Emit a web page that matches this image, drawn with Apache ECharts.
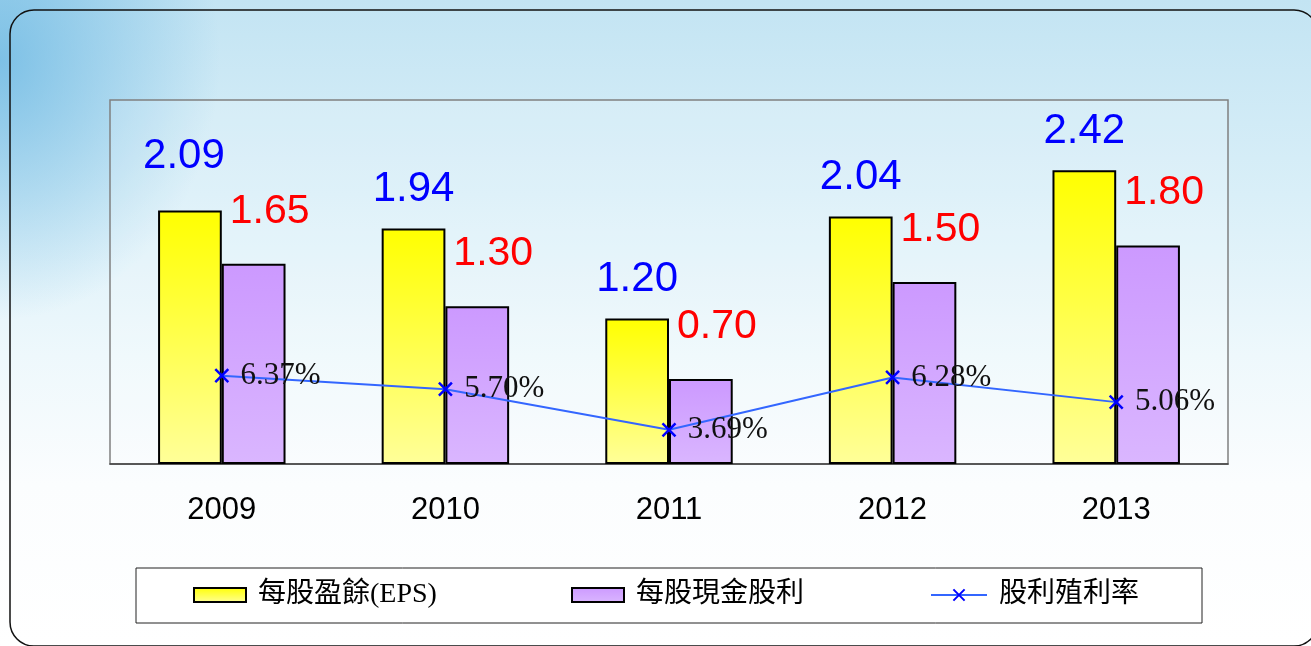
<!DOCTYPE html>
<html>
<head>
<meta charset="utf-8">
<script src="https://cdn.jsdelivr.net/npm/echarts@6/dist/echarts.min.js"></script>
<style>
    html, body { margin: 0; padding: 0; }
    body {
        width: 1311px; height: 646px; overflow: hidden;
        background:
            radial-gradient(ellipse 220px 260px at 0px 60px, rgba(100,180,225,0.75), rgba(100,180,225,0) 100%),
            linear-gradient(to bottom, #c3e4f3 0%, #d9eff8 30%, #eef8fc 55%, #fbfdfe 75%, #ffffff 100%);
    }
    #main { width: 1311px; height: 646px; }
</style>
</head>
<body>
<div id="main"></div>
<script>
// 年度
var years = ['2009', '2010', '2011', '2012', '2013'];
// 每股盈餘(EPS)
var epsData = [2.09, 1.94, 1.20, 2.04, 2.42];
// 每股現金股利
var cashDividend = [1.65, 1.30, 0.70, 1.50, 1.80];
// 股利殖利率(%)
var yieldRate = [6.37, 5.70, 3.69, 6.28, 5.06];

var seriesNames = ['每股盈餘(EPS)', '每股現金股利', '股利殖利率'];

var myChart = echarts.init(document.getElementById('main'));

var crossIcon = 'path://M0,0L10,10M10,0L0,10';

var legendText = {
    fontFamily: 'Liberation Serif, "Noto Sans CJK TC"',
    fontSize: 28,
    color: '#000',
    padding: [0, 0, 0, 7]
};

//2009年的EPS標籤在原圖中稍微偏左上
var epsItems = epsData.map(function (v, i) {
    if (i === 0) {
        return { value: v, label: { distance: 33, offset: [-6, 0] } };
    }
    return v;
});

var option = {
    backgroundColor: 'transparent',
    animation: false,
    graphic: [
        {
            // 外框
            type: 'rect',
            shape: { x: 10, y: 10, width: 1308, height: 636, r: 24 },
            style: { fill: 'none', stroke: '#111', lineWidth: 1.5 },
            silent: true
        },
        {
            // 圖例框
            type: 'rect',
            shape: { x: 136, y: 568, width: 1066, height: 55 },
            style: { fill: '#fff', stroke: '#222', lineWidth: 1 },
            silent: true,
            z: -1
        }
    ],
    grid: {
        left: 110,
        right: 83,
        top: 100,
        bottom: 182,
        show: true,
        borderColor: '#808080',
        borderWidth: 1.5,
        backgroundColor: 'rgba(255,255,255,0.15)'
    },
    legend: [
        {
            data: [{ name: seriesNames[0], icon: 'rect' }],
            left: 193, top: 581, padding: 0,
            itemWidth: 52, itemHeight: 14,
            textStyle: legendText
        },
        {
            data: [{ name: seriesNames[1], icon: 'rect' }],
            left: 571, top: 581, padding: 0,
            itemWidth: 52, itemHeight: 14,
            textStyle: legendText
        },
        {
            data: [seriesNames[2]],
            left: 930, top: 581, padding: 0,
            itemWidth: 56, itemHeight: 14,
            textStyle: legendText
        }
    ],
    xAxis: [
        {
            type: 'category',
            data: years,
            axisTick: { show: false },
            axisLine: { lineStyle: { color: '#404040', width: 1.5 } },
            axisLabel: {
                color: '#000',
                fontFamily: 'Liberation Sans',
                fontSize: 31,
                margin: 31
            }
        }
    ],
    yAxis: [
        {
            type: 'value',
            min: 0,
            max: 3,
            show: false,
            splitLine: { show: false }
        },
        {
            type: 'value',
            min: 2,
            max: 20,
            show: false,
            splitLine: { show: false }
        }
    ],
    series: [
        {
            name: seriesNames[0],
            type: 'bar',
            data: epsItems,
            barGap: '0%',
            barCategoryGap: '43%',
            itemStyle: {
                color: new echarts.graphic.LinearGradient(0, 0, 0, 1, [
                    { offset: 0, color: '#ffff00' },
                    { offset: 1, color: '#ffff99' }
                ]),
                borderColor: '#000',
                borderWidth: 2
            },
            label: {
                show: true,
                position: 'top',
                distance: 18,
                color: '#0000ff',
                fontFamily: 'Liberation Sans',
                fontSize: 42,
                formatter: function (p) { return p.value.toFixed(2); }
            }
        },
        {
            name: seriesNames[1],
            type: 'bar',
            data: cashDividend,
            itemStyle: {
                color: new echarts.graphic.LinearGradient(0, 0, 0, 1, [
                    { offset: 0, color: '#cc99ff' },
                    { offset: 1, color: '#dab6ff' }
                ]),
                borderColor: '#000',
                borderWidth: 2
            },
            label: {
                show: true,
                position: 'top',
                distance: 32,
                offset: [16, 0],
                color: '#ff0000',
                fontFamily: 'Liberation Sans',
                fontSize: 41,
                formatter: function (p) { return p.value.toFixed(2); }
            }
        },
        {
            name: seriesNames[2],
            type: 'line',
            yAxisIndex: 1,
            data: yieldRate,
            symbol: crossIcon,
            symbolSize: 13,
            lineStyle: { color: '#3366ff', width: 2 },
            itemStyle: { color: '#0000ff', borderColor: '#0000ff', borderWidth: 2.5 },
            label: {
                show: true,
                position: 'right',
                distance: 11,
                color: '#111',
                fontFamily: 'Liberation Serif',
                fontSize: 31,
                formatter: function (p) { return p.value.toFixed(2) + '%'; }
            },
            z: 5
        }
    ]
};
myChart.setOption(option);
</script>
</body>
</html>
